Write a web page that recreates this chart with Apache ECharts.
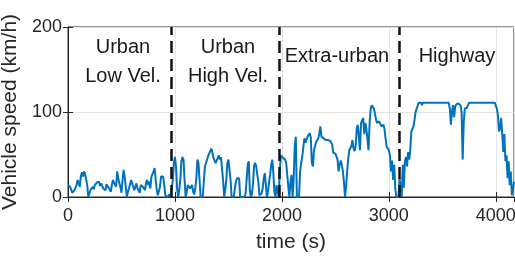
<!DOCTYPE html>
<html>
<head>
<meta charset="utf-8">
<script src="https://cdn.jsdelivr.net/npm/echarts@6/dist/echarts.min.js"></script>
<style>
  html, body { margin: 0; padding: 0; background: #fff; }
  #main { width: 515px; height: 257px; }
</style>
</head>
<body>
<div id="main"></div>
<script>
// speed trace sampled every 10 s, one array per phase (km/h)
var STEP = 10;
var lowVelStart = 0;
var lowVel = [14,16,12,10,5,3,8,6,14,20,
  16,12,24,29,24,30,27,29,14,0,
  4,8,10,12,9,14,12,17,15,18,
  13,16,14,10,12,8,15,16,11,12,
  6,14,20,17,18,12,30,22,16,12,
  5,20,32,24,12,0,6,10,8,20,
  16,14,8,12,16,10,12,5,14,16,
  12,14,8,17,20,14,18,10,24,22,
  30,34,20,8,2,0,12,24,22,24,
  14,2,0,0,0,3,0];
var highVelStart = 970;
var highVel = [0,20,40,47,36,10,0,8,20,42,
  47,44,20,0,6,14,12,10,8,14,
  6,3,10,22,44,40,20,0,0,0,
  18,36,40,44,48,51,54,57,52,46,
  44,40,41,46,49,44,47,47,20,0,
  8,20,40,44,44,20,0,0,0,10,
  18,22,24,22,0,0,0,0,0,4,
  20,38,42,8,0,4,16,37,40,36,
  26,18,2,0,4,10,22,28,14,0,
  6,18,26,38,44,28,6,0,14,6];
var extraUrbanStart = 1970;
var extraUrban = [0,30,49,47,46,46,44,40,38,12,
  0,18,26,0,20,60,71,0,0,0,
  30,40,47,58,69,64,62,71,70,75,
  70,40,36,55,60,65,67,69,75,83,
  71,70,69,68,67,68,67,67,66,67,
  62,52,53,51,49,44,30,38,43,38,
  30,18,0,12,30,45,55,57,60,67,
  57,54,61,81,85,70,55,87,90,93,
  74,87,80,68,55,87,104,108,110,104,
  98,91,87,88,89,86,83,84,85,79,
  68,59,57,55,49,30,43,20,38,10,
  0,0];
var highwayStart = 3090;
var highway = [0,22,10,0,38,11,42,47,36,53,
  44,55,77,80,83,91,100,104,106,111,
  112,111,108,111,111,111,111,111,111,111,
  111,111,111,111,111,111,111,111,111,111,
  111,111,111,111,111,111,111,111,
  104,85,100,108,94,106,109,110,110,109,
  108,100,44,88,104,106,105,108,111,111,
  111,111,111,111,111,111,111,111,111,111,
  111,111,111,111,111,111,111,111,111,111,
  111,111,111,
  111,104,96,77,81,93,74,53,74,42,
  49,22,42,14,30,2,8,18];

var phaseEnds = [965, 1975, 3095];
var phaseNames = ['Urban\nLow Vel.', 'Urban\nHigh Vel.', 'Extra-urban', 'Highway'];
var phaseLabelPos = [[514, 159], [1496, 159], [2515, 165], [3637, 165]];

var xTicks = [0, 1000, 2000, 3000, 4000];
var yTicks = [0, 100, 200];

function toPairs(start, values) {
  var out = [];
  for (var i = 0; i < values.length; i++) {
    out.push([start + i * STEP, values[i]]);
  }
  return out;
}

var data = [].concat(
  toPairs(lowVelStart, lowVel),
  toPairs(highVelStart, highVel),
  toPairs(extraUrbanStart, extraUrban),
  toPairs(highwayStart, highway)
);

var FONT = 'Liberation Sans, Arial, Helvetica, sans-serif';
var DARK = '#262626';
var plain = function (v) { return String(v); };

var chart = echarts.init(document.getElementById('main'));
chart.setOption({
  animation: false,
  backgroundColor: '#fff',
  grid: {
    left: 68, right: 1, top: 27, bottom: 60,
    outerBoundsMode: 'none', containLabel: false,
    show: true, borderColor: DARK, borderWidth: 1
  },
  xAxis: [{
    type: 'value',
    min: xTicks[0], max: 4170, interval: 1000,
    name: 'time (s)', nameLocation: 'middle', nameGap: 35,
    nameTextStyle: { fontFamily: FONT, fontSize: 21, color: DARK },
    axisLine: { show: true, lineStyle: { color: DARK } },
    axisTick: { inside: true, length: 5, lineStyle: { color: DARK } },
    axisLabel: { fontFamily: FONT, fontSize: 18, color: DARK, margin: 10, showMaxLabel: false, formatter: plain },
    splitLine: { show: true, lineStyle: { color: '#e3e3e3' } }
  }, {
    type: 'value', position: 'top',
    min: xTicks[0], max: 4170, interval: 1000,
    axisLine: { show: true, lineStyle: { color: DARK } },
    axisTick: { inside: true, length: 5, lineStyle: { color: DARK } },
    axisLabel: { show: false },
    splitLine: { show: false }
  }],
  yAxis: [{
    type: 'value',
    min: yTicks[0], max: yTicks[yTicks.length - 1], interval: 100,
    name: 'Vehicle speed (km/h)', nameLocation: 'middle', nameGap: 40,
    nameTextStyle: { fontFamily: FONT, fontSize: 21, color: DARK },
    axisLine: { show: true, lineStyle: { color: DARK } },
    axisTick: { inside: true, length: 5, lineStyle: { color: DARK } },
    axisLabel: { fontFamily: FONT, fontSize: 18, color: DARK, margin: 6, formatter: plain },
    splitLine: { show: true, lineStyle: { color: '#e3e3e3' } }
  }, {
    type: 'value', position: 'right',
    min: yTicks[0], max: yTicks[yTicks.length - 1], interval: 100,
    axisLine: { show: true, lineStyle: { color: DARK } },
    axisTick: { inside: true, length: 5, lineStyle: { color: DARK } },
    axisLabel: { show: false },
    splitLine: { show: false }
  }],
  series: [{
    name: 'speed',
    type: 'line',
    data: data,
    showSymbol: false,
    lineStyle: { color: '#0072BD', width: 2 },
    itemStyle: { color: '#0072BD' },
    markLine: {
      silent: true,
      symbol: ['none', 'none'],
      label: { show: false },
      lineStyle: { color: '#111', width: 2.5, type: [12, 6] },
      data: phaseEnds.map(function (t) { return { xAxis: t }; })
    },
    markPoint: {
      silent: true,
      symbol: 'circle',
      symbolSize: 0,
      label: {
        show: true, position: 'inside',
        fontFamily: FONT, fontSize: 20, lineHeight: 29, color: '#1a1a1a',
        formatter: function (p) { return p.name; }
      },
      data: phaseNames.map(function (n, i) { return { name: n, coord: phaseLabelPos[i] }; })
    }
  }]
});
</script>
</body>
</html>
